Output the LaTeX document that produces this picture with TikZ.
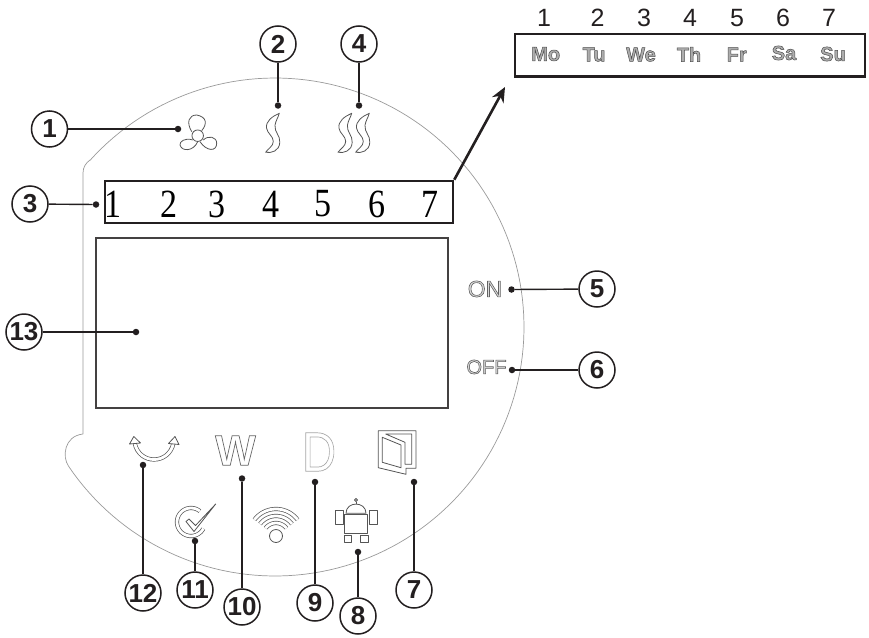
\documentclass[tikz,border=0pt]{standalone}
\usepackage{fontspec}
\usepackage{graphicx}
\usetikzlibrary{arrows.meta}
\setmainfont{Liberation Sans}
\newfontfamily\digitfont[FakeStretch=.85]{Liberation Serif}
\definecolor{ink}{HTML}{231F20}
\definecolor{shell}{HTML}{9A9A9A}
\definecolor{iconc}{HTML}{555555}
% outlined text: render mode 2 with given line width, fill grey, stroke grey
\newcommand{\outl}[4]{\special{pdf:code 2 Tr #1 w #2 g #3 G}#4\special{pdf:code 0 Tr 1 w 0 g 0 G}}
\newcommand{\fsz}[1]{\fontsize{#1}{#1}\selectfont}
\tikzset{
  num/.style={circle,draw=ink,line width=1.5pt,fill=white,minimum size=36pt,inner sep=0pt,text=ink,font=\fsz{26}\bfseries},
  dotmark/.style={circle,fill=ink,minimum size=6.5pt,inner sep=0pt},
  conn/.style={draw=ink,line width=1.4pt},
  framebox/.style={draw=ink,line width=2.5pt,fill=none},
  ico/.style={draw=iconc,line width=.8pt,line join=round},
  band/.style={draw=iconc,line width=.7pt,double=white,double distance=2.8pt},
  lbl/.style={inner sep=0pt,text=ink},
  wave/.pic={\draw[ico] (0,0) .. controls (-7,3) and (-14,8) .. (-12.7,15)
     .. controls (-12,20) and (-6,23) .. (-6,28)
     .. controls (-6,33) and (-11,35) .. (-13.7,39)
     .. controls (-8,40) and (0,38) .. (.5,29)
     .. controls (1,22) and (-5,19) .. (-4.3,12)
     .. controls (-3.5,7) and (-1,4) .. (0,0) -- cycle;}
}
\begin{document}
\begin{tikzpicture}[x=1pt,y=-1pt]
\useasboundingbox (0,0) rectangle (869,637);
% shell outline
\draw[draw=shell,line width=.7pt,samples=150,line join=round]
  plot[domain=-138:146] ({275+249*cos(\x)},{327+249*sin(\x)})
  .. controls (62,457) and (64,436) .. (83,434)
  -- (83,173) .. controls (83,167) and (86,163) .. (90,160);
% LCD
\node[draw=ink!85,line width=1.2pt,minimum width=352pt,minimum height=170pt,inner sep=0pt] (lcd) at (272,323) {};
% day bars
\node[framebox,minimum width=348pt,minimum height=42pt,inner sep=0pt] (bar) at (279,202) {};
\node[framebox,minimum width=350pt,minimum height=42.5pt,inner sep=0pt] (days) at (690,55.25) {};
\coordinate (tip) at (505,87);
\draw[conn,line width=2.6pt,-{Stealth[length=15pt,width=13pt]}] (bar.north east) -- (tip);
% serif digits
\foreach \t/\px in {1/113,2/169,3/217,4/271,5/323,6/377,7/430}
  \node[lbl,font=\fsz{40}\digitfont,text=black] (s\t) at (\px,204) {\t};
% sans digits
\foreach \t/\px in {1/544,2/597.5,3/644,4/690,5/737,6/783,7/829}
  \node[lbl,font=\fsz{25}] (t\t) at (\px,18) {\t};
% day names
\foreach \t/\px/\py in {Mo/545.7/54,Tu/594/54.5,We/641/54.5,Th/689/54.5,Fr/736.7/54.5,Sa/784/53,Su/833/54}
  \node[lbl,font=\fsz{20}\bfseries] (w\t) at (\px,\py) {\outl{.5}{.68}{.3}{\t}};
% on off
\node[lbl,font=\fsz{23}] (on) at (485,289) {\outl{.6}{.85}{.38}{ON}};
\node[lbl,font=\fsz{20}] (off) at (486.5,367) {\outl{.6}{.85}{.38}{OFF}};
% W D
\node[lbl,font=\fsz{43}\bfseries] (wsym) at (235.5,450.5) {\outl{.7}{1}{.4}{W}};
\node[lbl,font=\fsz{56}] (dsym) at (319,452) {\outl{.7}{1}{.65}{\scalebox{.85}[1]{D}}};
% fan
\draw[ico] (191.7,131.7) .. controls (186,122) and (189,115) .. (196.7,115) .. controls (207,117) and (207.3,124) .. (201.7,130.7);
\draw[ico] (192.7,140) .. controls (185,137.3) and (179.3,141.7) .. (180,145) .. controls (181.7,151.7) and (193.3,151.7) .. (197.7,141.7);
\draw[ico] (203.3,140) .. controls (208.3,135) and (216.7,136.7) .. (216.7,143.3) .. controls (216.7,151.7) and (206.7,151.7) .. (200,141.7);
\node[ico,circle,minimum size=11.5pt,inner sep=0pt] (hub) at (197.7,135.7) {};
% waves
\pic at (279.3,113.3) {wave};
\pic at (351.7,113.3) {wave};
\pic at (369.3,113.3) {wave};
% double arrow
\draw[band] (134.7,443) .. controls (139,465) and (169,465) .. (173.5,443);
\draw[ico,fill=white] (133.8,436.5) -- (129.5,444) -- (140.5,443) -- cycle;
\draw[ico,fill=white] (175,436.5) -- (168.5,443.5) -- (179,444.5) -- cycle;
% check
\draw[band,samples=60] plot[domain=-51:-332] ({191+14*cos(\x)},{522+14*sin(\x)});
\draw[ico,fill=white] (215.7,504) -- (194,531.5) -- (186,521.5) -- (189,519) -- (195.5,525.5) -- cycle;
% wifi
\foreach \r in {13,20,27}
  \draw[band,samples=40] plot[domain=-143:-37] ({276+\r*cos(\x)},{536+\r*sin(\x)});
\node[ico,circle,minimum size=13pt,inner sep=0pt,fill=white] (wifi) at (276,536) {};
% door
\draw[ico] (378.3,430.7) -- (416,430.7) -- (416,468.3) -- (406,468.3) -- (406,474.3) -- (378.3,467.7) -- cycle;
\draw[ico] (385.7,434) -- (411.7,434) -- (411.7,464.3) -- (405,464.3) -- (405,442.3) -- cycle;
\draw[ico] (382.3,437.3) -- (401,445) -- (401,467.7) -- (382.3,462.3) -- cycle;
% robot
\draw[ico] (356,500) circle (1.5);
\draw[ico] (356,501.5) -- (356,504);
\draw[ico] (346,513.3) .. controls (346,501) and (366,501) .. (366,513.3) -- cycle;
\draw[ico] (344.3,514.5) rectangle (367.7,533.3);
\draw[ico] (335,510) rectangle (343.3,524);
\draw[ico] (369,510) rectangle (377.3,524);
\draw[ico] (344.3,535) rectangle (351.7,542.3);
\draw[ico] (360.7,535) rectangle (368.3,542.3);
% numbered callouts
\foreach \t/\nx/\ny/\dx/\dy in {1/49.5/129/178/129,2/278/44/278/105.5,4/359/44/359/105.5,3/30/204/96/204.5,
  5/597/289/511.5/289.5,6/597/370/512/370,13/24/332/136/332,12/143/593/143/465,11/195/590/195/541,
  10/242/607/242/478.5,9/315/603/315/482,8/358/616/358/552,7/414/590/414/482}{
  \node[dotmark] (d\t) at (\dx,\dy) {};
  \node[num] (n\t) at (\nx,\ny) {\t};
  \draw[conn] (n\t) -- (d\t);
}
\end{tikzpicture}
\end{document}
